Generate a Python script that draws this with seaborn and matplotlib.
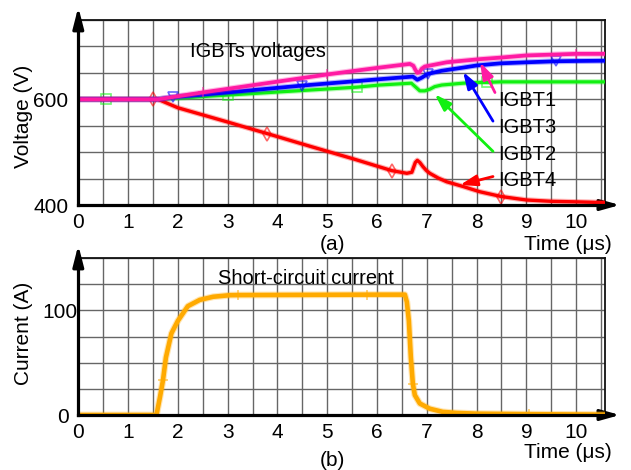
import numpy as np
import matplotlib
matplotlib.use("Agg")
import matplotlib.pyplot as plt
import matplotlib.patheffects as pe
from matplotlib import transforms
import seaborn as sns

# ---- IGBT collector-emitter voltages (V) versus time (us) ----
t_igbt1 = [0, 1.5, 1.6, 2.5, 5.0, 6.05, 6.66, 6.73, 6.77, 6.81, 6.85, 6.9, 6.96, 7.4, 7.5, 8.07, 8.5, 9.0, 10.0, 10.58]
v_igbt1 = [600, 600, 600, 613, 647, 660, 667, 663.5, 656, 650, 651, 658, 662, 670, 671, 676, 679, 683, 686, 686]

t_igbt3 = [0, 1.6, 1.9, 3.0, 4.5, 6.05, 6.72, 6.81, 6.9, 7.02, 7.3, 7.73, 8.0, 8.47, 9.0, 9.6, 10.0, 10.58]
v_igbt3 = [600, 600, 604, 613, 626, 638, 643, 637, 641, 648, 654, 660, 664, 668, 670, 672, 672.5, 673]

t_igbt2 = [0, 0.55, 1.6, 3.0, 5.6, 6.05, 6.69, 6.79, 6.86, 6.96, 7.06, 7.16, 7.3, 7.73, 8.07, 8.2, 8.47, 9.0, 10.58]
v_igbt2 = [600, 600, 600, 608, 623, 627, 630.5, 622, 616, 616, 619, 624, 627, 630.5, 632, 632, 633, 633, 633]

t_igbt4 = [0, 1.5, 1.6, 1.7, 2.0, 3.0, 3.8, 4.66, 5.5, 6.3, 6.6, 6.7, 6.73, 6.77, 6.81, 6.86, 6.92, 6.99, 7.06,
           7.23, 7.4, 7.73, 8.07, 8.5, 9.0, 9.5, 10.0, 10.58]
v_igbt4 = [600, 600, 600, 596, 584, 557, 535, 511, 488, 465, 460, 462, 470, 480.5, 484.5, 480.5, 473, 465.5, 460,
           451, 444, 435, 425, 416, 409.5, 407, 406, 404.5]

# ---- short-circuit current (A) versus time (us) ----
t_isc = [0, 1.57, 1.64, 1.7, 1.76, 1.87, 2.0, 2.2, 2.44, 2.71, 3.05, 3.2, 5.8, 6.56, 6.6, 6.64, 6.68, 6.72,
         6.76, 6.86, 7.06, 7.32, 7.6, 8.0, 9.05, 10.0, 10.58]
i_isc = [0, 0, 17, 33, 55, 78, 90, 104, 110, 113, 114.5, 114.6, 115, 115, 108, 90, 55, 30,
         19, 11, 6, 3, 2, 1.3, 0.8, 0.5, 0.4]

# marker positions along each trace
mk_igbt1 = [2.5, 5.0, 7.5, 10.0]
mk_igbt3 = [1.9, 4.5, 7.02, 9.6]
mk_igbt2 = [0.55, 3.0, 5.6, 8.2]
mk_igbt4 = [1.5, 3.8, 6.3, 8.5]
mk_isc = [1.7, 3.2, 5.8, 6.72, 9.05]

x_ticks = list(range(0, 11))
v_tick_labels = [400, 600]
i_tick_labels = [0, 100]

C_IGBT1 = "#ff1aa3"
C_IGBT3 = "#0000ff"
C_IGBT2 = "#11f011"
C_IGBT4 = "#ff0000"
C_ISC = "#ffaa00"

sns.set_style("white")
plt.rcParams["font.family"] = ["Liberation Sans", "DejaVu Sans"]
plt.rcParams["text.color"] = "black"
plt.rcParams["axes.labelcolor"] = "black"
plt.rcParams["xtick.color"] = "black"
plt.rcParams["ytick.color"] = "black"

fig = plt.figure(figsize=(6.31, 4.70), dpi=100)
ax1 = fig.add_axes([0.1241, 0.5638, 0.8347, 0.3936])
ax2 = fig.add_axes([0.1241, 0.1170, 0.8347, 0.3340])


def trace(ax, t, y, color, lw, marker, marks, z):
    t = np.asarray(t, dtype=float)
    idx = [int(np.argmin(np.abs(t - m))) for m in marks]
    # the trace itself, with a soft halo
    sns.lineplot(x=t, y=y, ax=ax, color=color, lw=lw, sort=False, estimator=None, zorder=z,
                 solid_joinstyle="round", solid_capstyle="round",
                 path_effects=[pe.Stroke(linewidth=lw + 1.6, foreground=color, alpha=0.3), pe.Normal()])
    # faint symbols at a few points of the trace
    sns.lineplot(x=t, y=y, ax=ax, color=color, linestyle="none", sort=False, estimator=None,
                 marker=marker, markevery=idx, ms=7, mfc="none",
                 mec=matplotlib.colors.to_rgba(color, 0.6), mew=1.2, zorder=z + 0.5)


trace(ax1, t_igbt2, v_igbt2, C_IGBT2, 2.3, "s", mk_igbt2, 3)
trace(ax1, t_igbt4, v_igbt4, C_IGBT4, 2.4, "d", mk_igbt4, 4)
trace(ax1, t_igbt3, v_igbt3, C_IGBT3, 2.7, "v", mk_igbt3, 5)
trace(ax1, t_igbt1, v_igbt1, C_IGBT1, 2.7, "+", mk_igbt1, 6)
trace(ax2, t_isc, i_isc, C_ISC, 3.3, "+", mk_isc, 5)

ax1.text(2.24, 690, "IGBTs voltages", fontsize=14.5, va="center", ha="left")
ax2.text(2.81, 130, "Short-circuit current", fontsize=14.5, va="center", ha="left")

# labelled arrows pointing at each IGBT trace
labels = [("IGBT1", 597, C_IGBT1, (8.37, 612.8), (8.07, 670)),
          ("IGBT3", 547, C_IGBT3, (8.33, 558.7), (7.73, 652)),
          ("IGBT2", 495, C_IGBT2, (8.33, 501.5), (7.16, 609.5)),
          ("IGBT4", 446, C_IGBT4, (8.33, 453.9), (7.67, 438))]
for name, ty, col, tail, tip in labels:
    ax1.annotate("", xy=tip, xytext=tail,
                 arrowprops=dict(arrowstyle="-|>,head_length=1.0,head_width=0.33", color=col,
                                 lw=2.0, shrinkA=0, shrinkB=0, mutation_scale=10), zorder=8)
    ax1.text(8.43, ty, name, fontsize=14.5, va="center", ha="left", zorder=9)

ax1.set_ylim(400, 750)
ax2.set_ylim(0, 150)
ax1.set_yticks(np.arange(400, 751, 50))
ax1.set_yticklabels([str(int(v)) if v in v_tick_labels else "" for v in np.arange(400, 751, 50)])
ax2.set_yticks(np.arange(0, 151, 25))
ax2.set_yticklabels([str(int(v)) if v in i_tick_labels else "" for v in np.arange(0, 151, 25)])

for ax in (ax1, ax2):
    ax.set_xlim(0, 10.58)
    grid_x = np.arange(0, 10.51, 0.5)
    ax.set_xticks(grid_x)
    ax.set_xticklabels([str(int(v)) if v in x_ticks else "" for v in grid_x])
    ax.grid(True, color="#666666", lw=1.0)
    ax.set_axisbelow(True)
    ax.tick_params(axis="both", length=0, labelsize=15)
    ax.tick_params(axis="x", pad=6)
    ax.tick_params(axis="y", pad=7)
    for side in ("left", "bottom"):
        ax.spines[side].set_color("black")
        ax.spines[side].set_linewidth(2.3)
        ax.spines[side].set_zorder(7)
    for side in ("top", "right"):
        ax.spines[side].set_color("#111111")
        ax.spines[side].set_linewidth(1.3)
    # axis arrows
    up = transforms.offset_copy(ax.transAxes, fig=fig, x=0, y=13, units="dots")
    ax.annotate("", xy=(0, 1), xycoords=up, xytext=(0, 0.97), textcoords=ax.transAxes,
                arrowprops=dict(arrowstyle="-|>,head_length=1.25,head_width=0.32", color="black",
                                lw=2.3, shrinkA=0, shrinkB=0, mutation_scale=10),
                annotation_clip=False)
    right = transforms.offset_copy(ax.transAxes, fig=fig, x=15, y=0, units="dots")
    ax.annotate("", xy=(1, 0), xycoords=right, xytext=(0.98, 0), textcoords=ax.transAxes,
                arrowprops=dict(arrowstyle="-|>,head_length=1.15,head_width=0.32", color="black",
                                lw=2.3, shrinkA=0, shrinkB=0, mutation_scale=10),
                annotation_clip=False)

# "100" sits right against the axis
ax2.yaxis.get_major_ticks()[4].set_pad(0.5)

ax1.set_ylabel("Voltage (V)", fontsize=15)
ax1.yaxis.set_label_coords(-0.086, 0.481)
ax2.set_ylabel("Current (A)", fontsize=15)
ax2.yaxis.set_label_coords(-0.086, 0.522)

for ax, ty, tag, tagy in ((ax1, -0.211, "(a)", -0.211), (ax2, -0.242, "(b)", -0.287)):
    ax.set_xlabel("Time (\u03bcs)", fontsize=15)
    ax.xaxis.label.set_ha("right")
    ax.xaxis.label.set_va("center")
    ax.xaxis.set_label_coords(1.013, ty)
    ax.text(0.482, tagy, tag, transform=ax.transAxes, fontsize=15, ha="center", va="center")

fig.savefig("out.png", dpi=100)
